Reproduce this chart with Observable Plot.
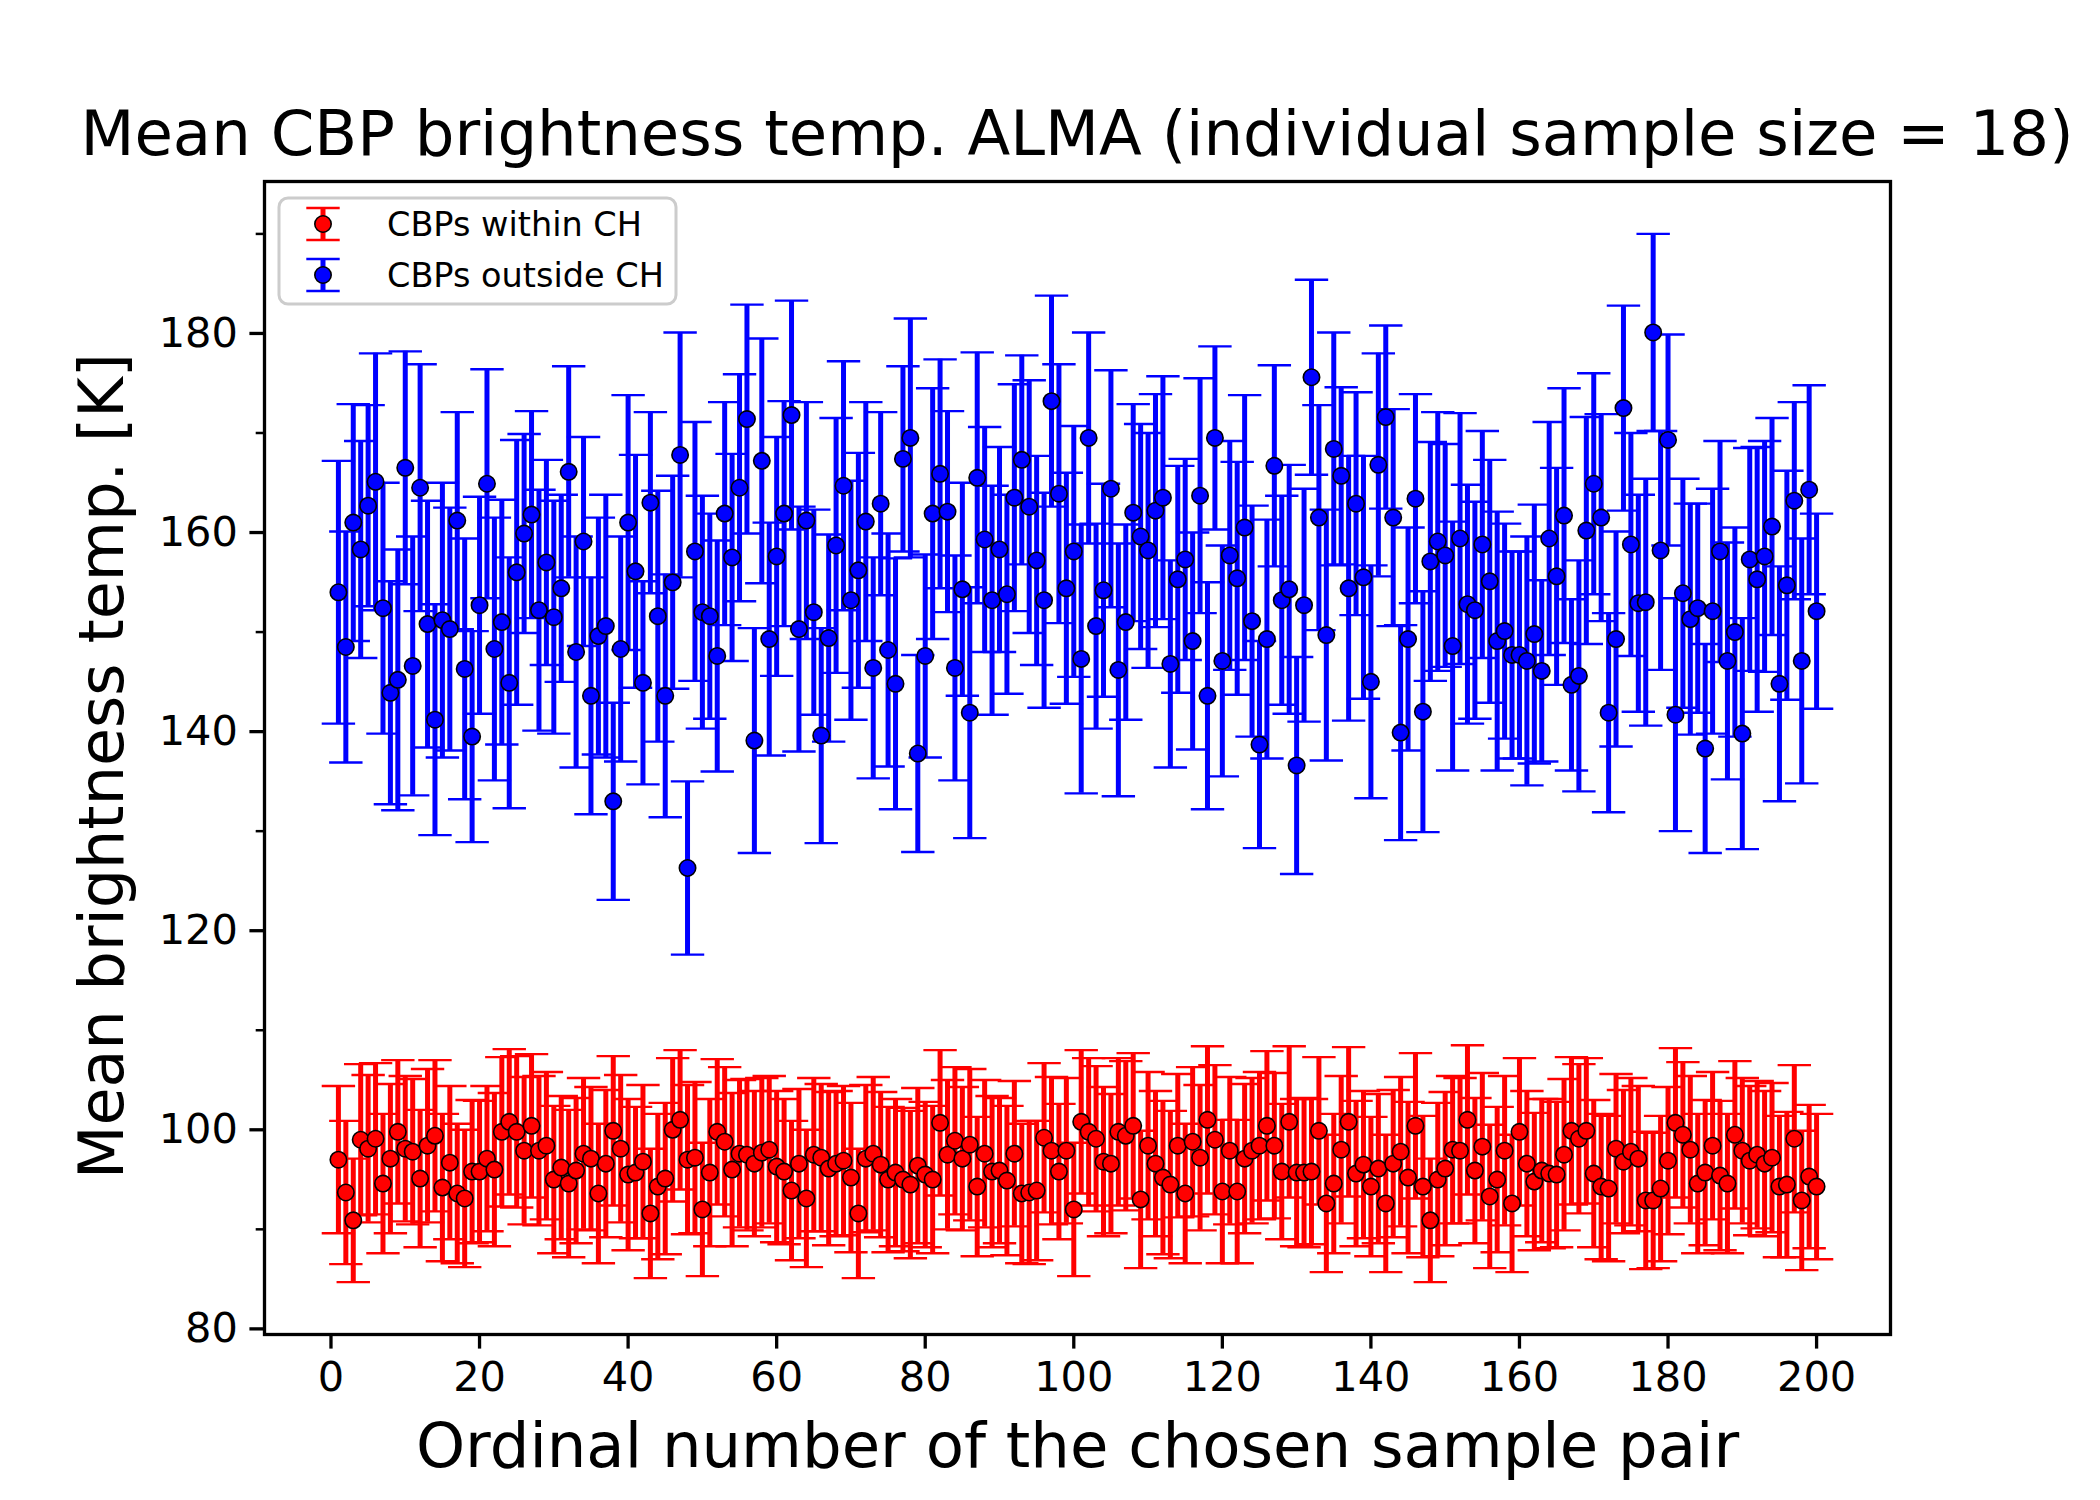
<!DOCTYPE html>
<html>
<head>
<meta charset="utf-8">
<script src="https://cdn.jsdelivr.net/npm/d3@7"></script>
<script src="https://cdn.jsdelivr.net/npm/@observablehq/plot@0.6"></script>
<style>
  html, body { margin: 0; padding: 0; background: white; }
  #wrap { position: relative; width: 2100px; height: 1500px; font-family: "DejaVu Sans", sans-serif; color: black; }
  #title { position: absolute; left: 1077px; top: 94px; transform: translateX(-50%); white-space: nowrap;
           font-size: 62.5px; line-height: 80px; font-family: "DejaVu Sans", sans-serif; }
  #chart { position: absolute; left: 0; top: 160px; }
  #legend { position: absolute; left: 0; top: 0; pointer-events: none; }
</style>
</head>
<body>
<div id="wrap">
  <div id="chart"></div>
  <div id="title"></div>
  <svg id="legend" width="2100" height="400"></svg>
</div>
<script>
// ---- data ----
const titleText = "Mean CBP brightness temp. ALMA (individual sample size = 18)";
const xLabel = "Ordinal number of the chosen sample pair";
const yLabel = "Mean brightness temp. [K]";
const seriesNames = ["CBPs within CH", "CBPs outside CH"];
const seriesColors = ["#ff0000", "#0000ff"];
const xTicks = [0, 20, 40, 60, 80, 100, 120, 140, 160, 180, 200];
const yTicks = [80, 100, 120, 140, 160, 180];
const yMinorTicks = [90, 110, 130, 150, 170, 190];

// ordinal numbers of the sample pairs (1..200)
const pairNumber = d3.range(1, 201);

const redMean = [
 97.0,93.7,90.9,99.0,98.1,99.1,94.6,97.1,99.8,98.1,97.8,95.1,98.4,99.4,94.2,96.7,93.6,93.1,95.8,95.8,
 97.1,96.0,99.8,100.8,99.8,97.9,100.4,97.9,98.4,95.0,96.2,94.6,95.9,97.6,97.1,93.6,96.6,99.9,98.1,95.5,
 95.7,96.8,91.6,94.3,95.1,100.0,101.0,97.0,97.2,92.0,95.7,99.8,98.8,96.0,97.6,97.5,96.6,97.7,98.0,96.3,
 95.8,93.9,96.6,93.1,97.5,97.2,96.1,96.6,96.9,95.2,91.6,97.1,97.6,96.5,95.0,95.7,95.0,94.5,96.4,95.5,
 95.0,100.7,97.5,98.9,97.1,98.5,94.3,97.6,95.8,95.9,94.9,97.6,93.6,93.7,93.9,99.2,97.9,95.8,97.9,92.0,
 100.8,99.8,99.1,96.8,96.6,99.8,99.4,100.4,93.0,98.4,96.6,95.2,94.5,98.4,93.6,98.8,97.2,101.0,99.0,93.8,
 97.9,93.8,97.1,97.9,98.4,100.4,98.4,95.8,100.8,95.7,95.7,95.8,99.9,92.6,94.6,98.0,100.8,95.6,96.5,94.3,
 96.1,92.6,96.6,97.8,95.2,100.4,94.3,90.9,95.0,96.1,98.0,97.9,101.0,95.9,98.3,93.3,95.0,97.9,92.6,99.8,
 96.6,94.8,95.9,95.6,95.5,97.5,99.9,99.1,99.9,95.6,94.3,94.1,98.1,96.8,97.8,97.1,92.9,92.9,94.1,96.9,
 100.7,99.5,98.0,94.6,95.7,98.4,95.4,94.6,99.5,97.9,96.9,97.5,96.6,97.2,94.3,94.5,99.1,92.9,95.3,94.3
];
const redErr = [
 7.4,7.2,6.2,7.6,7.4,7.6,7.0,7.5,7.2,7.3,7.3,6.9,7.7,7.6,7.4,7.7,7.0,6.9,7.2,7.1,
 7.3,7.7,7.5,7.3,7.6,7.4,7.2,7.5,7.4,7.4,7.2,7.4,7.3,7.6,7.2,7.0,7.4,7.5,7.4,7.6,
 6.6,7.7,6.5,7.3,7.6,7.2,7.0,7.5,7.6,6.7,7.4,7.3,7.5,7.7,7.4,7.6,7.3,7.5,7.4,7.6,
 7.3,7.0,7.5,6.9,7.7,7.4,7.7,7.3,7.5,7.5,6.5,7.4,7.7,7.3,7.3,7.4,7.2,7.4,7.8,7.3,
 7.4,7.3,7.5,7.4,7.2,7.6,7.0,7.4,7.6,7.3,7.5,7.3,7.0,7.2,7.0,7.5,7.4,6.8,7.3,6.7,
 7.2,7.4,7.3,7.5,7.0,7.4,7.5,7.3,6.9,7.4,7.3,7.7,7.4,7.2,7.0,7.5,7.3,7.4,7.5,7.2,
 7.4,7.2,7.5,7.3,7.4,7.5,7.3,6.8,7.6,7.4,7.5,7.3,7.4,6.9,7.0,7.4,7.5,7.3,7.4,7.0,
 7.5,6.9,7.4,7.5,7.6,7.3,7.1,6.2,7.7,7.7,7.4,7.3,7.5,7.3,7.4,7.2,7.3,7.5,6.9,7.4,
 7.3,6.9,7.2,7.5,7.3,7.6,7.4,7.5,7.3,7.4,7.3,7.3,7.5,7.2,7.4,7.3,6.9,6.8,7.3,7.4,
 7.5,7.3,7.4,7.0,7.3,7.4,7.5,7.0,7.4,7.3,7.5,7.4,7.3,7.5,7.1,7.3,7.4,7.0,7.2,7.3
];
const blueMean = [
 154.0,148.5,161.0,158.3,162.7,165.1,152.4,143.9,145.2,166.5,146.6,164.5,150.8,141.2,151.2,150.3,161.2,146.3,139.5,152.7,
 164.9,148.3,151.0,144.9,156.0,159.9,161.8,152.2,157.0,151.5,154.4,166.1,148.0,159.1,143.6,149.6,150.6,133.0,148.3,161.0,
 156.1,144.9,163.0,151.6,143.6,155.0,167.8,126.3,158.1,152.0,151.6,147.6,161.9,157.5,164.5,171.4,139.1,167.2,149.3,157.6,
 161.9,171.8,150.3,161.2,152.0,139.6,149.4,158.7,164.7,153.2,156.2,161.1,146.4,162.9,148.2,144.8,167.4,169.5,137.8,147.6,
 161.9,165.9,162.1,146.4,154.3,141.9,165.5,159.3,153.2,158.3,153.8,163.5,167.3,162.6,157.2,153.2,173.2,163.9,154.4,158.1,
 147.3,169.5,150.6,154.2,164.4,146.2,151.0,162.0,159.6,158.2,162.2,163.5,146.8,155.3,157.3,149.1,163.7,143.6,169.5,147.1,
 157.7,155.4,160.5,151.1,138.7,149.3,166.7,153.2,154.3,136.6,152.7,175.6,161.5,149.7,168.4,165.7,154.4,162.9,155.5,145.0,
 166.8,171.6,161.5,139.9,149.3,163.4,142.0,157.1,159.1,157.7,148.6,159.4,152.8,152.2,158.8,155.1,149.1,150.1,147.7,147.7,
 147.1,149.8,146.1,159.4,155.6,161.7,144.7,145.6,160.2,164.9,161.5,141.9,149.3,172.5,158.8,152.9,153.0,180.1,158.2,169.3,
 141.7,153.9,151.3,152.4,138.3,152.1,158.1,147.1,150.0,139.8,157.3,155.3,157.6,160.6,144.8,154.7,163.2,147.1,164.3,152.1
];
const blueErr = [
 13.2,11.6,11.9,10.9,10.1,12.9,12.6,11.2,13.1,11.7,13.0,12.4,12.4,11.6,13.8,12.2,10.9,13.1,10.6,10.9,
 11.5,13.2,12.3,12.6,13.3,10.0,10.4,12.1,10.3,11.7,9.4,10.6,11.6,10.5,11.9,11.9,13.2,9.9,11.3,12.8,
 11.7,10.2,9.1,12.6,12.2,10.7,12.3,8.7,13.0,11.7,10.3,11.6,11.2,10.4,11.4,11.5,11.3,12.3,11.7,12.0,
 11.3,11.5,12.3,11.9,10.3,10.8,10.4,12.8,12.5,12.0,11.8,12.0,11.1,9.2,11.7,12.6,9.3,12.0,9.9,10.2,
 12.6,11.5,10.1,11.3,10.7,12.6,12.6,11.3,11.5,10.3,10.0,11.4,10.5,12.7,10.5,10.8,10.6,13.0,11.6,12.6,
 13.5,10.6,10.3,10.7,11.9,12.7,9.8,10.9,11.3,11.8,11.7,12.2,10.4,11.4,10.1,10.9,11.8,11.4,9.2,11.6,
 11.5,11.7,13.3,11.6,10.4,12.0,10.1,10.5,12.5,10.9,11.7,9.8,11.3,12.6,11.7,8.9,13.3,11.2,12.2,11.7,
 11.2,9.2,10.9,10.8,11.2,10.5,12.1,12.0,13.0,11.2,12.5,12.6,12.0,10.9,11.4,12.2,13.0,10.8,10.4,10.4,
 12.5,13.0,9.1,11.7,10.9,12.8,8.6,11.6,11.4,11.1,10.4,10.0,10.8,10.3,11.2,10.9,12.4,9.9,12.0,10.6,
 11.7,11.5,11.6,10.5,10.5,12.3,11.1,11.9,10.5,11.6,11.2,13.3,11.6,10.9,11.8,11.5,9.9,12.3,10.5,9.8
];

// ---- build table ----
function rows(means, errs, series) {
  return pairNumber.map((n, k) => ({n, v: means[k], lo: means[k] - errs[k], hi: means[k] + errs[k], series}));
}
const red = rows(redMean, redErr, seriesNames[0]);
const blue = rows(blueMean, blueErr, seriesNames[1]);

// matplotlib-like autoscale (5% margins of data incl. error bars)
const xMin = d3.min(pairNumber), xMax = d3.max(pairNumber);
const xPad = (xMax - xMin) * 0.05;
const yLo = d3.min(red.concat(blue), d => d.lo), yHi = d3.max(red.concat(blue), d => d.hi);
const yPad = (yHi - yLo) * 0.05;

const CAP = 16.7;
const LW = 5;
const CAPW = 2.4;
const DOT_R = 8.2;
const capSymbol = { draw(ctx) { ctx.moveTo(-CAP, 0); ctx.lineTo(CAP, 0); } };

function seriesMarks(data, color) {
  return [
    Plot.ruleX(data, {x: "n", y1: "lo", y2: "hi", stroke: color, strokeWidth: LW}),
    Plot.dot(data, {x: "n", y: "hi", symbol: capSymbol, r: 5, fill: "none", stroke: color, strokeWidth: CAPW}),
    Plot.dot(data, {x: "n", y: "lo", symbol: capSymbol, r: 5, fill: "none", stroke: color, strokeWidth: CAPW}),
    Plot.dot(data, {x: "n", y: "v", r: DOT_R, fill: color, stroke: "black", strokeWidth: 1.6})
  ];
}

const chart = Plot.plot({
  width: 2100,
  height: 1340,
  marginLeft: 264,
  marginRight: 210,
  marginTop: 21,
  marginBottom: 166,
  x: {domain: [xMin - xPad, xMax + xPad]},
  y: {domain: [yLo - yPad, yHi + yPad]},
  style: {fontFamily: "DejaVu Sans", background: "white", color: "black", overflow: "visible"},
  marks: [
    ...seriesMarks(red, seriesColors[0]),
    ...seriesMarks(blue, seriesColors[1]),
    Plot.frame({stroke: "black", strokeWidth: 3.3}),
    Plot.axisX({ticks: xTicks, tickSize: 14.6, tickPadding: 12, fontSize: 41.5, strokeWidth: 3.3, label: null}),
    Plot.axisY({ticks: yTicks, tickSize: 14.6, tickPadding: 12, fontSize: 41.5, strokeWidth: 3.3, label: null}),
    Plot.axisY({ticks: yMinorTicks, tickSize: 8.3, strokeWidth: 2.5, tickFormat: () => "", label: null}),
    Plot.text([xLabel], {frameAnchor: "bottom", lineAnchor: "middle", dy: 112, fontSize: 62.5, fill: "black"}),
    Plot.text([yLabel], {frameAnchor: "left", textAnchor: "middle", lineAnchor: "middle", rotate: -90, dx: -161, dy: 8, fontSize: 62, fill: "black"})
  ]
});
document.getElementById("chart").appendChild(chart);
document.getElementById("title").textContent = titleText;

// ---- legend ----
const lg = d3.select("#legend");
lg.append("rect").attr("x", 279).attr("y", 198).attr("width", 397).attr("height", 106)
  .attr("rx", 9).attr("fill", "white").attr("fill-opacity", 0.8)
  .attr("stroke", "#cccccc").attr("stroke-width", 3);
seriesNames.forEach((name, k) => {
  const cy = 224 + k * 51, cx = 323;
  const g = lg.append("g");
  g.append("line").attr("x1", cx).attr("x2", cx).attr("y1", cy - 16).attr("y2", cy + 16)
    .attr("stroke", seriesColors[k]).attr("stroke-width", LW);
  [cy - 16, cy + 16].forEach(yy => g.append("line").attr("x1", cx - CAP).attr("x2", cx + CAP)
    .attr("y1", yy).attr("y2", yy).attr("stroke", seriesColors[k]).attr("stroke-width", CAPW));
  g.append("circle").attr("cx", cx).attr("cy", cy).attr("r", DOT_R)
    .attr("fill", seriesColors[k]).attr("stroke", "black").attr("stroke-width", 1.6);
  g.append("text").attr("x", 387).attr("y", cy).attr("dominant-baseline", "central")
    .attr("font-family", "DejaVu Sans").attr("font-size", 33.5).attr("fill", "black").text(name);
});
</script>
</body>
</html>
